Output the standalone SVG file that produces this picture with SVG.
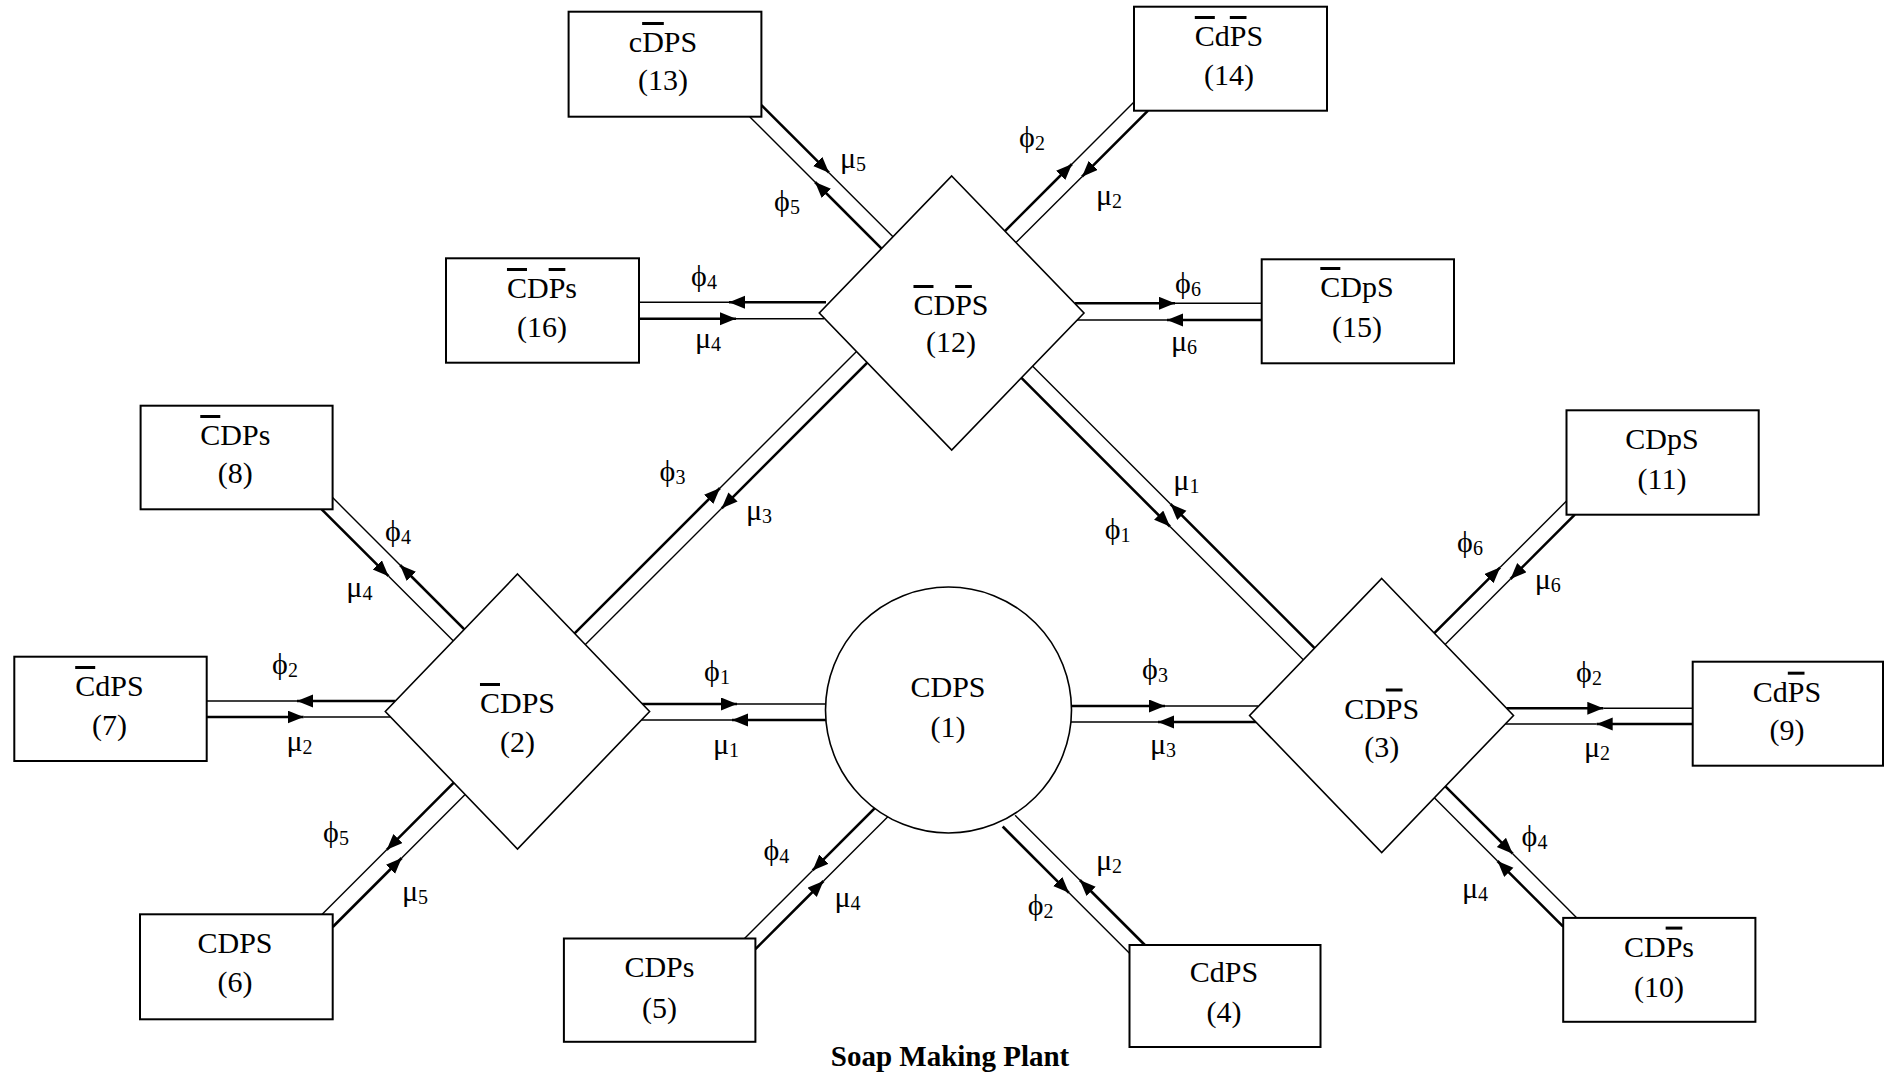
<svg xmlns="http://www.w3.org/2000/svg" width="1884" height="1079" viewBox="0 0 1884 1079">
<style>
.box{fill:#fff;stroke:#000;stroke-width:2}
.dia{fill:#fff;stroke:#000;stroke-width:1.6}
.thick{stroke:#000;stroke-width:2.6;fill:none;marker-end:url(#ah)}
.thin{stroke:#000;stroke-width:1.4;fill:none}
.lbl{font-family:"Liberation Serif","Times New Roman",serif;font-size:30px;text-anchor:middle;fill:#000}
.g{font-family:"Liberation Serif","Times New Roman",serif;font-size:30px;text-anchor:middle;fill:#000}
.sub{font-size:20px}
.ob{text-decoration:overline}
.title{font-family:"Liberation Serif","Times New Roman",serif;font-size:29px;font-weight:bold;text-anchor:middle}
</style>
<defs>
<marker id="ah" markerWidth="17" markerHeight="14" refX="16" refY="6.5" orient="auto" markerUnits="userSpaceOnUse">
<path d="M0,0 L16,6.5 L0,13 z" fill="#000"/>
</marker>
</defs>
<rect width="1884" height="1079" fill="#fff"/>

<g id="connectors">
<path class="thick" d="M642,704 L737,704"/><path class="thin" d="M737,704 L826,704"/>
<path class="thick" d="M826,720 L732,720"/><path class="thin" d="M732,720 L641.5,720"/>
<path class="thick" d="M1071,706 L1165,706"/><path class="thin" d="M1165,706 L1258,706"/>
<path class="thick" d="M1256,722 L1158,722"/><path class="thin" d="M1158,722 L1071,722"/>
<path class="thick" d="M395.5,701 L297,701"/><path class="thin" d="M297,701 L206.7,701"/>
<path class="thick" d="M206.7,717 L303.6,717"/><path class="thin" d="M303.6,717 L390.5,717"/>
<path class="thick" d="M464.3,629.3 L400,565"/><path class="thin" d="M400,565 L332.6,497.6"/>
<path class="thick" d="M321.7,509.3 L388.6,576.2"/><path class="thin" d="M388.6,576.2 L453.2,640.8"/>
<path class="thick" d="M453.8,782.7 L386.7,849.8"/><path class="thin" d="M386.7,849.8 L322.2,914.3"/>
<path class="thick" d="M332.7,927 L401.7,858"/><path class="thin" d="M401.7,858 L465.1,794.6"/>
<path class="thick" d="M574.6,633.4 L720,488"/><path class="thin" d="M720,488 L856.5,351.5"/>
<path class="thick" d="M867.3,362.7 L721.7,508.3"/><path class="thin" d="M721.7,508.3 L585.4,644.6"/>
<path class="thick" d="M1021.4,377.9 L1170,526.5"/><path class="thin" d="M1170,526.5 L1303.3,659.8"/>
<path class="thick" d="M1314.6,648.1 L1170.5,504"/><path class="thin" d="M1170.5,504 L1032.7,366.2"/>
<path class="thick" d="M1434.3,633.2 L1500.2,567.3"/><path class="thin" d="M1500.2,567.3 L1566.5,501"/>
<path class="thick" d="M1574.8,514.7 L1510.5,579"/><path class="thin" d="M1510.5,579 L1445.1,644.4"/>
<path class="thick" d="M1506.5,708.3 L1603.3,708.3"/><path class="thin" d="M1603.3,708.3 L1692.7,708.3"/>
<path class="thick" d="M1692.7,724 L1596.7,724"/><path class="thin" d="M1596.7,724 L1505.3,724"/>
<path class="thick" d="M1445.4,786.4 L1512.7,853.7"/><path class="thin" d="M1512.7,853.7 L1576.9,917.9"/>
<path class="thick" d="M1563.2,926.7 L1497.5,861"/><path class="thin" d="M1497.5,861 L1434.3,797.8"/>
<path class="thick" d="M875.8,807.2 L812.6,870.4"/><path class="thin" d="M812.6,870.4 L744.5,938.5"/>
<path class="thick" d="M755.4,949.1 L823.5,881"/><path class="thin" d="M823.5,881 L888.3,816.2"/>
<path class="thick" d="M1002.7,826.5 L1069,892.8"/><path class="thin" d="M1069,892.8 L1129.5,953.3"/>
<path class="thick" d="M1144.8,945 L1079.8,880"/><path class="thin" d="M1079.8,880 L1015.1,815.3"/>
<path class="thick" d="M881.6,248.6 L815,182"/><path class="thin" d="M815,182 L749.7,116.7"/>
<path class="thick" d="M761.4,105.1 L829,172.7"/><path class="thin" d="M829,172.7 L893,236.7"/>
<path class="thick" d="M1004.9,231.1 L1072,164"/><path class="thin" d="M1072,164 L1134,102"/>
<path class="thick" d="M1148,110.7 L1082,176.7"/><path class="thin" d="M1082,176.7 L1016,242.6"/>
<path class="thick" d="M826,302.3 L729,302.3"/><path class="thin" d="M729,302.3 L639,302.3"/>
<path class="thick" d="M639,318.7 L736,318.7"/><path class="thin" d="M736,318.7 L824,318.7"/>
<path class="thick" d="M1075,303.3 L1175,303.3"/><path class="thin" d="M1175,303.3 L1261.7,303.3"/>
<path class="thick" d="M1261.7,320 L1167,320"/><path class="thin" d="M1167,320 L1077,320"/>

<text class="g" x="717" y="680.7">ϕ<tspan class="sub" dy="3">1</tspan></text>
<text class="g" x="726" y="754">μ<tspan class="sub" dy="3">1</tspan></text>
<text class="g" x="1155" y="679">ϕ<tspan class="sub" dy="3">3</tspan></text>
<text class="g" x="1163" y="754">μ<tspan class="sub" dy="3">3</tspan></text>
<text class="g" x="285" y="674">ϕ<tspan class="sub" dy="3">2</tspan></text>
<text class="g" x="299.5" y="750.7">μ<tspan class="sub" dy="3">2</tspan></text>
<text class="g" x="398" y="541.3">ϕ<tspan class="sub" dy="3">4</tspan></text>
<text class="g" x="359.4" y="597.3">μ<tspan class="sub" dy="3">4</tspan></text>
<text class="g" x="336" y="842.3">ϕ<tspan class="sub" dy="3">5</tspan></text>
<text class="g" x="415" y="900.7">μ<tspan class="sub" dy="3">5</tspan></text>
<text class="g" x="672.5" y="480.7">ϕ<tspan class="sub" dy="3">3</tspan></text>
<text class="g" x="759" y="520">μ<tspan class="sub" dy="3">3</tspan></text>
<text class="g" x="1186.4" y="490">μ<tspan class="sub" dy="3">1</tspan></text>
<text class="g" x="1117.7" y="539">ϕ<tspan class="sub" dy="3">1</tspan></text>
<text class="g" x="1470" y="552.3">ϕ<tspan class="sub" dy="3">6</tspan></text>
<text class="g" x="1547.7" y="589">μ<tspan class="sub" dy="3">6</tspan></text>
<text class="g" x="1589" y="682.3">ϕ<tspan class="sub" dy="3">2</tspan></text>
<text class="g" x="1597" y="757.3">μ<tspan class="sub" dy="3">2</tspan></text>
<text class="g" x="1534.5" y="845.7">ϕ<tspan class="sub" dy="3">4</tspan></text>
<text class="g" x="1475" y="898">μ<tspan class="sub" dy="3">4</tspan></text>
<text class="g" x="776.3" y="860.3">ϕ<tspan class="sub" dy="3">4</tspan></text>
<text class="g" x="847.5" y="906.6">μ<tspan class="sub" dy="3">4</tspan></text>
<text class="g" x="1109" y="870">μ<tspan class="sub" dy="3">2</tspan></text>
<text class="g" x="1040.7" y="915">ϕ<tspan class="sub" dy="3">2</tspan></text>
<text class="g" x="853" y="167.5">μ<tspan class="sub" dy="3">5</tspan></text>
<text class="g" x="787" y="210.7">ϕ<tspan class="sub" dy="3">5</tspan></text>
<text class="g" x="1032" y="147.4">ϕ<tspan class="sub" dy="3">2</tspan></text>
<text class="g" x="1109" y="205">μ<tspan class="sub" dy="3">2</tspan></text>
<text class="g" x="704" y="285.7">ϕ<tspan class="sub" dy="3">4</tspan></text>
<text class="g" x="708" y="347.5">μ<tspan class="sub" dy="3">4</tspan></text>
<text class="g" x="1188" y="292.5">ϕ<tspan class="sub" dy="3">6</tspan></text>
<text class="g" x="1184" y="351">μ<tspan class="sub" dy="3">6</tspan></text>
</g>

<g id="node1">
<circle cx="948.5" cy="710" r="123" class="dia"/>
<text class="lbl" x="948" y="697">CDPS</text>
<text class="lbl" x="948" y="737">(1)</text>
</g>
<g id="node2">
<polygon class="dia" points="517.5,574 649.6,711.5 517.5,849 385.3,711.5"/>
<text class="lbl" x="517.5" y="713"><tspan class="ob">C</tspan>DPS</text>
<text class="lbl" x="517.5" y="752">(2)</text>
</g>
<g id="node3">
<polygon class="dia" points="1381.7,578.5 1513.5,715.5 1381.7,852.5 1249.6,715.5"/>
<text class="lbl" x="1381.7" y="718.5">CD<tspan class="ob">P</tspan>S</text>
<text class="lbl" x="1381.7" y="757">(3)</text>
</g>
<g id="node12">
<polygon class="dia" points="951.7,176 1084,313 951.7,450 819.3,313"/>
<text class="lbl" x="951" y="315"><tspan class="ob">C</tspan>D<tspan class="ob">P</tspan>S</text>
<text class="lbl" x="951" y="352">(12)</text>
</g>
<g id="node4">
<rect class="box" x="1129.5" y="945" width="191" height="102"/>
<text class="lbl" x="1224" y="982">CdPS</text>
<text class="lbl" x="1224" y="1022">(4)</text>
</g>
<g id="node5">
<rect class="box" x="563.9" y="938.5" width="191.5" height="103.3"/>
<text class="lbl" x="659.4" y="977">CDPs</text>
<text class="lbl" x="659.4" y="1018">(5)</text>
</g>
<g id="node6">
<rect class="box" x="140" y="914.3" width="192.7" height="105"/>
<text class="lbl" x="235" y="953">CDPS</text>
<text class="lbl" x="235" y="992">(6)</text>
</g>
<g id="node7">
<rect class="box" x="14.3" y="656.7" width="192.4" height="104.3"/>
<text class="lbl" x="109.4" y="696"><tspan class="ob">C</tspan>dPS</text>
<text class="lbl" x="109.4" y="735">(7)</text>
</g>
<g id="node8">
<rect class="box" x="140.6" y="405.7" width="192" height="103.6"/>
<text class="lbl" x="235.3" y="445"><tspan class="ob">C</tspan>DPs</text>
<text class="lbl" x="235.3" y="483">(8)</text>
</g>
<g id="node9">
<rect class="box" x="1692.7" y="661.7" width="190.3" height="104"/>
<text class="lbl" x="1787" y="701.7">Cd<tspan class="ob">P</tspan>S</text>
<text class="lbl" x="1787" y="740">(9)</text>
</g>
<g id="node10">
<rect class="box" x="1563.2" y="917.9" width="192.2" height="103.9"/>
<text class="lbl" x="1659" y="956.6">CD<tspan class="ob">P</tspan>s</text>
<text class="lbl" x="1659" y="996.6">(10)</text>
</g>
<g id="node11">
<rect class="box" x="1566.5" y="410.3" width="192.2" height="104.4"/>
<text class="lbl" x="1662" y="449.4">CDpS</text>
<text class="lbl" x="1662" y="488.6">(11)</text>
</g>
<g id="node13">
<rect class="box" x="568.6" y="11.7" width="192.8" height="105"/>
<text class="lbl" x="663" y="52">c<tspan class="ob">D</tspan>PS</text>
<text class="lbl" x="663" y="90">(13)</text>
</g>
<g id="node14">
<rect class="box" x="1134" y="6.7" width="193" height="104"/>
<text class="lbl" x="1229" y="46"><tspan class="ob">C</tspan>d<tspan class="ob">P</tspan>S</text>
<text class="lbl" x="1229" y="85">(14)</text>
</g>
<g id="node15">
<rect class="box" x="1261.7" y="259.3" width="192.3" height="104"/>
<text class="lbl" x="1357" y="297"><tspan class="ob">C</tspan>DpS</text>
<text class="lbl" x="1357" y="337">(15)</text>
</g>
<g id="node16">
<rect class="box" x="446" y="258.3" width="193" height="104.4"/>
<text class="lbl" x="542" y="298"><tspan class="ob">C</tspan>D<tspan class="ob">P</tspan>s</text>
<text class="lbl" x="542" y="337">(16)</text>
</g>
<text class="title" x="950" y="1066">Soap Making Plant</text>
</svg>
